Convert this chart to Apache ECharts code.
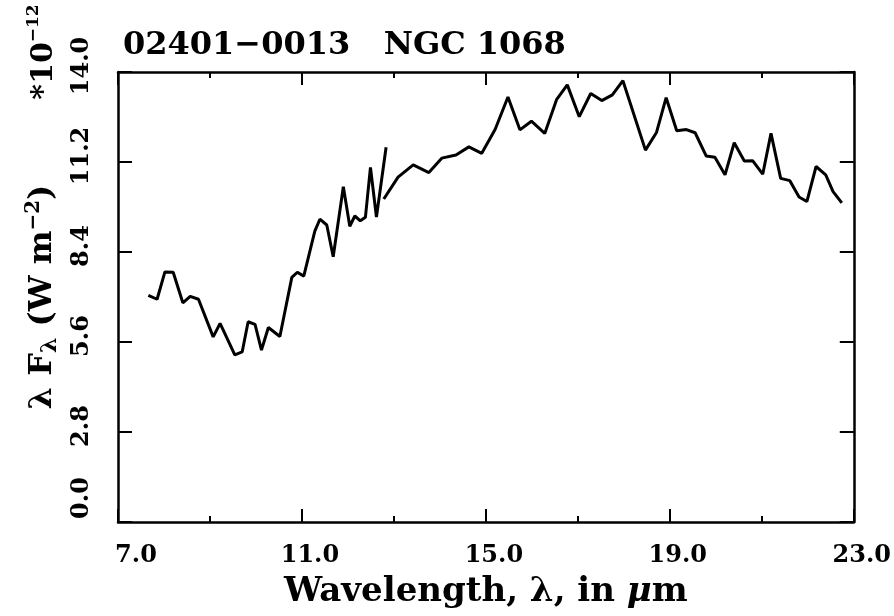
<!DOCTYPE html>
<html>
<head>
<meta charset="utf-8">
<script src="https://cdn.jsdelivr.net/npm/echarts@6/dist/echarts.min.js"></script>
<style>
  html, body { margin: 0; padding: 0; background: #fff; }
  #chart { width: 894px; height: 616px; }
</style>
</head>
<body>
<div id="chart"></div>
<script>
// spectrum, short-wavelength piece
const seg1X = [7.66, 7.85, 8.02, 8.20, 8.41, 8.57, 8.75, 9.07, 9.22, 9.54, 9.70, 9.83, 9.98, 10.12, 10.27, 10.52, 10.78, 10.90, 11.04, 11.28, 11.39, 11.54, 11.68, 11.90, 12.04, 12.15, 12.27, 12.38, 12.49, 12.62, 12.83]
const seg1Y = [7.05, 6.93, 7.78, 7.77, 6.82, 7.02, 6.93, 5.76, 6.18, 5.20, 5.29, 6.23, 6.15, 5.35, 6.05, 5.77, 7.61, 7.77, 7.65, 9.05, 9.42, 9.24, 8.25, 10.43, 9.20, 9.52, 9.37, 9.48, 11.03, 9.49, 11.66]
// long-wavelength piece
const seg2X = [12.78, 13.09, 13.42, 13.76, 14.04, 14.35, 14.63, 14.91, 15.20, 15.48, 15.74, 15.99, 16.28, 16.54, 16.77, 17.03, 17.28, 17.52, 17.75, 17.98, 18.47, 18.71, 18.92, 19.15, 19.36, 19.55, 19.79, 19.98, 20.20, 20.40, 20.62, 20.80, 21.02, 21.20, 21.41, 21.61, 21.81, 21.98, 22.18, 22.39, 22.55, 22.74]
const seg2Y = [10.05, 10.73, 11.11, 10.87, 11.32, 11.42, 11.67, 11.47, 12.21, 13.22, 12.20, 12.47, 12.09, 13.15, 13.60, 12.61, 13.33, 13.11, 13.29, 13.73, 11.57, 12.12, 13.20, 12.17, 12.21, 12.11, 11.39, 11.35, 10.80, 11.80, 11.23, 11.24, 10.82, 12.09, 10.69, 10.62, 10.11, 9.97, 11.06, 10.80, 10.28, 9.93]

const xTicks = [7, 11, 15, 19, 23]
const yTicks = [0, 2.8, 5.6, 8.4, 11.2, 14]
const titleText = '02401\u22120013   NGC 1068'

const FONT = 'DejaVu Serif'
const base = { fontFamily: FONT, fontWeight: 'bold', color: '#000' }

const chart = echarts.init(document.getElementById('chart'))

const line = () => ({ show: true, onZero: false, lineStyle: { color: '#000', width: 2.5 } })
const tick = len => ({ show: true, inside: true, length: len, lineStyle: { color: '#000', width: 2 } })

chart.setOption({
  animation: false,
  backgroundColor: '#fff',
  title: {
    text: titleText, left: 118, top: 25,
    textStyle: { ...base, fontSize: 32 }
  },
  grid: { left: 118, right: 40, top: 72, bottom: 94 },
  xAxis: [
    {
      type: 'value', position: 'bottom', min: xTicks[0], max: xTicks[xTicks.length - 1], interval: 4,
      axisLine: line(),
      axisTick: tick(13),
      minorTick: { show: true, splitNumber: 2, length: 6, lineStyle: { color: '#000', width: 2 } },
      splitLine: { show: false },
      axisLabel: {
        margin: 22, showMinLabel: true, showMaxLabel: true,
        formatter: v => (v === xTicks[0] ? '{f|' : '{n|') + v.toFixed(1) + '}',
        rich: {
          n: { ...base, fontSize: 24, padding: [0, 0, 0, 16] },
          f: { ...base, fontSize: 24, padding: [0, 0, 0, 36] }
        }
      },
      name: '{a|Wavelength, \u03bb, in }{i|\u03bc}{a|m}',
      nameLocation: 'middle', nameGap: 53,
      nameTextStyle: {
        rich: {
          a: { ...base, fontSize: 34 },
          i: { ...base, fontSize: 34, fontStyle: 'italic' }
        }
      }
    },
    {
      type: 'value', position: 'top', min: xTicks[0], max: xTicks[xTicks.length - 1], interval: 4,
      axisLine: line(),
      axisTick: tick(13),
      minorTick: { show: true, splitNumber: 2, length: 6, lineStyle: { color: '#000', width: 2 } },
      splitLine: { show: false },
      axisLabel: { show: false }
    }
  ],
  yAxis: [
    {
      type: 'value', position: 'left', min: yTicks[0], max: yTicks[yTicks.length - 1], interval: 2.8,
      axisLine: line(),
      axisTick: tick(14),
      splitLine: { show: false },
      axisLabel: {
        rotate: 90, margin: 24, showMinLabel: true, showMaxLabel: true,
        formatter: v => (v === 0 ? '{z|' : '{n|') + v.toFixed(1) + '}',
        rich: {
          n: { ...base, fontSize: 24, padding: [0, 0, 0, 12] },
          z: { ...base, fontSize: 24, padding: [0, 0, 0, 48] }
        }
      },
      name: '{a|\u03bb F}{sub|\u03bb}{a| (W m}{sup|\u22122}{a|)}',
      nameLocation: 'middle', nameRotate: 90, nameGap: 56,
      nameTextStyle: {
        rich: {
          a: { ...base, fontSize: 32 },
          sub: { ...base, fontSize: 22, padding: [14, 0, 0, 0] },
          sup: { ...base, fontSize: 20, padding: [0, 0, 18, 0] }
        }
      }
    },
    {
      type: 'value', position: 'right', min: yTicks[0], max: yTicks[yTicks.length - 1], interval: 2.8,
      axisLine: line(),
      axisTick: tick(14),
      splitLine: { show: false },
      axisLabel: { show: false }
    }
  ],
  graphic: [
    {
      type: 'text', x: 44, y: 52, rotation: Math.PI / 2,
      style: {
        text: '{a|*10}{sup|\u221212}', align: 'center', verticalAlign: 'middle',
        rich: {
          a: { ...base, fontSize: 30 },
          sup: { ...base, fontSize: 17, padding: [0, 0, 20, 0] }
        }
      }
    }
  ],
  series: [
    {
      type: 'line', xAxisIndex: 0, yAxisIndex: 0, symbol: 'none',
      lineStyle: { color: '#000', width: 3 },
      data: seg1X.map((x, i) => [x, seg1Y[i]])
    },
    {
      type: 'line', xAxisIndex: 0, yAxisIndex: 0, symbol: 'none',
      lineStyle: { color: '#000', width: 3 },
      data: seg2X.map((x, i) => [x, seg2Y[i]])
    }
  ]
})
</script>
</body>
</html>
